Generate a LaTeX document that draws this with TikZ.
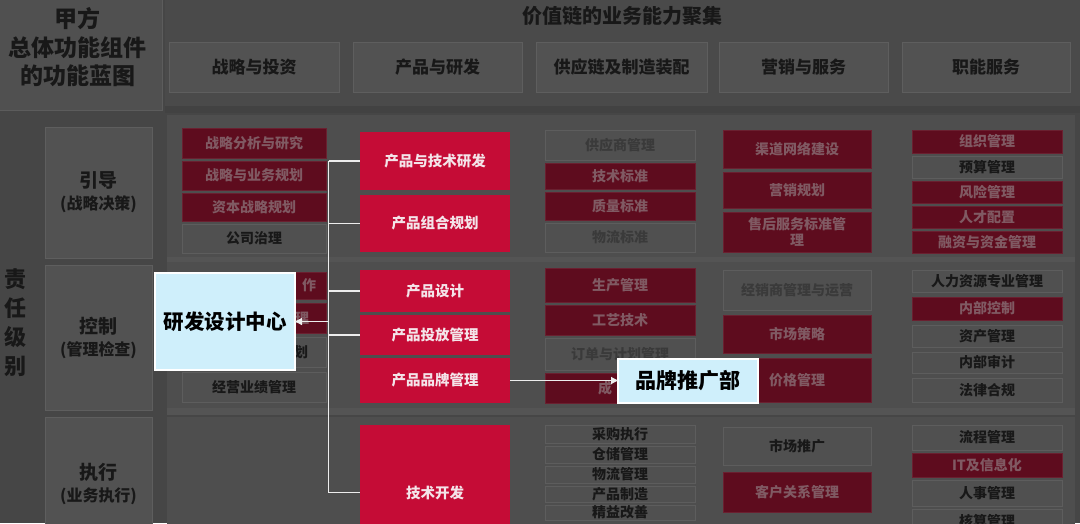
\documentclass[tikz,border=0pt]{standalone}
\usepackage{fontspec}
\setmainfont{Noto Sans CJK SC}
\usetikzlibrary{arrows.meta}
\definecolor{bgc}{HTML}{464646}
\definecolor{panelc}{HTML}{4A4A4A}
\definecolor{rowc}{HTML}{4E4E4E}
\definecolor{bandc}{HTML}{545454}
\definecolor{darkband}{HTML}{424242}
\definecolor{tlc}{HTML}{505050}
\definecolor{tlline}{HTML}{5C5C5C}
\definecolor{hfill}{HTML}{525252}
\definecolor{hline}{HTML}{5E5E5E}
\definecolor{darktext}{HTML}{181818}
\definecolor{gfill}{HTML}{505050}
\definecolor{gline}{HTML}{5D5D5D}
\definecolor{fadetext}{HTML}{3A3A3A}
\definecolor{dred}{HTML}{5E0C1E}
\definecolor{dredline}{HTML}{6A2030}
\definecolor{dtext}{HTML}{805A63}
\definecolor{bred}{HTML}{C50C36}
\definecolor{rtext}{HTML}{F4E4E9}
\definecolor{cyanf}{HTML}{CFEFFB}
\definecolor{linec}{HTML}{EDEDED}
\newcommand\bx[7]{\node[#1,minimum width={(#5)-(#3)},minimum height={(#6)-(#4)}] (#2) at ({((#3)+(#5))/2},{((#4)+(#6))/2}) {#7};}
\begin{document}
\begin{tikzpicture}[x=1pt,y=-1pt,
  base/.style={inner sep=0pt,outer sep=0pt,align=center,font=\bfseries\fontsize{14}{16}\selectfont},
  gbox/.style={base,fill=gfill,draw=gline,line width=0.8pt,text=darktext},
  gfade/.style={gbox,text=fadetext},
  dbox/.style={base,fill=dred,draw=dredline,line width=0.6pt,text=dtext},
  rbox/.style={base,fill=bred,text=rtext,font=\bfseries\fontsize{14.5}{17}\selectfont},
  hbox/.style={base,fill=hfill,draw=hline,line width=0.8pt,text=darktext,font=\bfseries\fontsize{17}{20}\selectfont},
  lbox/.style={base,fill=hfill,draw=hline,line width=0.8pt,text=darktext,font=\bfseries\fontsize{16}{22}\selectfont},
  cbox/.style={base,fill=cyanf,draw=white,line width=2pt,text=black},
  conn/.style={draw=linec,line width=1.2pt},
  arr/.style={conn,-{Triangle[length=7pt,width=7pt]}},
  plain/.style={inner sep=0pt,outer sep=0pt,align=center,text=darktext}]
\useasboundingbox (0,0) rectangle (1080,523);
\clip (0,0) rectangle (1080,523);
% background
\fill[bgc] (0,0) rectangle (1080,523);
\fill[panelc] (165,0) rectangle (1080,106);
\fill[darkband] (165,106) rectangle (1080,113);
\filldraw[fill=tlc,draw=tlline,line width=1pt] (-1,-1) rectangle (162,110);
\fill[rowc] (167,115) rectangle (1075,257);
\fill[bandc] (167,257) rectangle (1075,262);
\fill[rowc] (167,262) rectangle (1075,408);
\fill[bandc] (167,408) rectangle (1075,415);
\fill[rowc] (167,417) rectangle (1075,540);
% titles
\node[plain,font=\bfseries\fontsize{23}{28.5}\selectfont] (tl) at (78,47.5) {甲方\\总体功能组件\\的功能蓝图};
\node[plain,font=\bfseries\fontsize{20}{24}\selectfont] (title) at (622,16) {价值链的业务能力聚集};
\node[plain,font=\bfseries\fontsize{22}{29}\selectfont] (zr) at (16,322.5) {责\\任\\级\\别};
% header boxes
\bx{hbox}{h1}{169}{42}{339}{92}{战略与投资}
\bx{hbox}{h2}{353}{42}{522}{92}{产品与研发}
\bx{hbox}{h3}{536}{42}{707}{92}{供应链及制造装配}
\bx{hbox}{h4}{719}{42}{888}{92}{营销与服务}
\bx{hbox}{h5}{902}{42}{1070}{92}{职能服务}
% row labels
\bx{lbox}{l1}{45}{127}{152}{258}{{\fontsize{19}{22}\selectfont 引导}\\(战略决策)}
\bx{lbox}{l2}{45}{265}{152}{410}{{\fontsize{19}{22}\selectfont 控制}\\(管理检查)}
\bx{lbox}{l3}{45}{417}{152}{550}{{\fontsize{19}{22}\selectfont 执行}\\(业务执行)}
% row 1
\bx{dbox}{s11}{182}{128}{326}{158}{战略分析与研究}
\bx{dbox}{s12}{182}{161}{326}{190}{战略与业务规划}
\bx{dbox}{s13}{182}{193}{326}{221}{资本战略规划}
\bx{gbox}{s14}{182}{224}{326}{253}{公司治理}
\bx{rbox}{p1}{360}{132}{510}{190}{产品与技术研发}
\bx{rbox}{p2}{360}{195}{510}{252}{产品组合规划}
\bx{gfade}{u11}{545}{130}{695}{160}{供应商管理}
\bx{dbox}{u12}{545}{163}{695}{189}{技术标准}
\bx{dbox}{u13}{545}{192}{695}{220}{质量标准}
\bx{gfade}{u14}{545}{223}{695}{252}{物流标准}
\bx{dbox}{m11}{723}{130}{871}{168}{渠道网络建设}
\bx{dbox}{m12}{723}{172}{871}{208}{营销规划}
\bx{dbox}{m13}{723}{212}{871}{252}{售后服务标准管\\理}
\bx{dbox}{f11}{912}{130}{1062}{153}{组织管理}
\bx{gbox}{f12}{912}{156}{1062}{178}{预算管理}
\bx{dbox}{f13}{912}{181}{1062}{203}{风险管理}
\bx{dbox}{f14}{912}{206}{1062}{228}{人才配置}
\bx{dbox}{f15}{912}{231}{1062}{253}{融资与资金管理}
% row 2
\bx{dbox}{s21}{182}{272}{326}{299}{\hspace*{110pt}作}
\bx{dbox}{s22}{182}{303}{326}{333}{\hspace*{96pt}理}
\bx{gbox}{s23}{182}{337}{326}{367}{\hspace*{94pt}划}
\bx{gbox}{s24}{182}{372}{326}{402}{经营业绩管理}
\bx{rbox}{p3}{360}{270}{510}{312}{产品设计}
\bx{rbox}{p4}{360}{315}{510}{355}{产品投放管理}
\bx{rbox}{p5}{360}{358}{510}{403}{产品品牌管理}
\bx{dbox}{u21}{545}{268}{695}{302}{生产管理}
\bx{dbox}{u22}{545}{305}{695}{335}{工艺技术}
\bx{gfade}{u23}{545}{338}{695}{370}{订单与计划管理}
\bx{dbox}{u24}{545}{373}{695}{403}{成\hspace*{30pt}}
\bx{gfade}{m21}{723}{270}{871}{310}{经销商管理与运营}
\bx{dbox}{m22}{723}{315}{871}{353}{市场策略}
\bx{dbox}{m23}{723}{358}{871}{402}{价格管理}
\bx{gbox}{f21}{912}{270}{1062}{292}{人力资源专业管理}
\bx{dbox}{f22}{912}{297}{1062}{320}{内部控制}
\bx{gbox}{f23}{912}{325}{1062}{347}{资产管理}
\bx{gbox}{f24}{912}{352}{1062}{373}{内部审计}
\bx{gbox}{f25}{912}{378}{1062}{402}{法律合规}
% row 3
\bx{rbox}{p6}{360}{425}{510}{560}{技术开发}
\bx{gbox}{u31}{545}{425}{695}{443}{采购执行}
\bx{gbox}{u32}{545}{446}{695}{463}{仓储管理}
\bx{gbox}{u33}{545}{466}{695}{483}{物流管理}
\bx{gbox}{u34}{545}{486}{695}{502}{产品制造}
\bx{gbox}{u35}{545}{505}{695}{520}{精益改善}
\bx{gbox}{m31}{723}{427}{871}{465}{市场推广}
\bx{dbox}{m32}{723}{472}{871}{512}{客户关系管理}
\bx{gbox}{f31}{912}{425}{1062}{450}{流程管理}
\bx{dbox}{f32}{912}{453}{1062}{477}{IT及信息化}
\bx{gbox}{f33}{912}{480}{1062}{506}{人事管理}
\bx{gbox}{f34}{912}{509}{1062}{533}{核算管理}
% highlighted departments
\bx{cbox,font=\bfseries\fontsize{20.5}{24}\selectfont}{rd}{155}{273}{295}{370}{研发设计中心}
\bx{cbox,font=\bfseries\fontsize{21}{25}\selectfont}{bp}{618}{359}{758}{403}{品牌推广部}
% connectors
\coordinate (vt) at (328.5,161);
\coordinate (vb) at (328.5,492.5);
\draw[conn] (vt) -- (vb);
\draw[conn] (vt) -- (vt -| p1.west);
\draw[conn] (vt |- p2.west) -- (p2.west);
\draw[conn] (vt |- p3.west) -- (p3.west);
\draw[conn] (vt |- p4.west) -- (p4.west);
\draw[conn] (vb) -- (vb -| p6.west);
\draw[arr] (vt |- rd.east) -- (rd.east);
\draw[arr] (p5.east) -- (p5.east -| bp.west);
\end{tikzpicture}
\end{document}
